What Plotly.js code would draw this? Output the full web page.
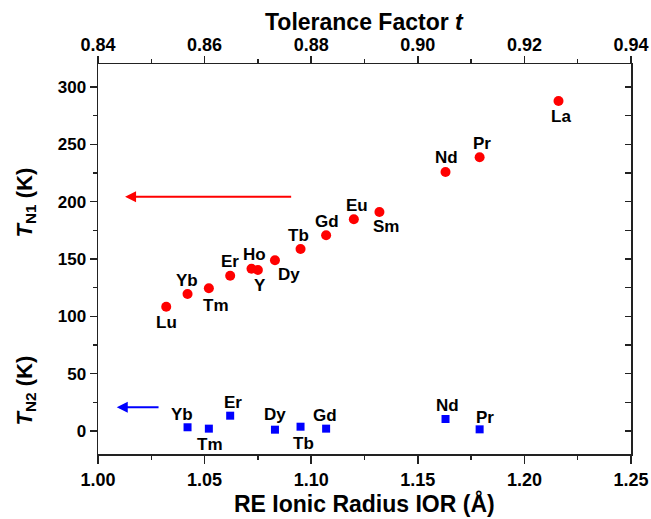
<!DOCTYPE html>
<html>
<head>
<meta charset="utf-8">
<script src="https://cdn.plot.ly/plotly-3.0.1.min.js"></script>
<style>html,body{margin:0;padding:0;background:#fff;}#chart{width:651px;height:519px;}</style>
</head>
<body>
<div id="chart"></div>
<script>
// ---- data ----
const tn1Elements = ["Lu","Yb","Tm","Er","Ho","Y","Dy","Tb","Gd","Eu","Sm","Nd","Pr","La"];
const tn1Radius   = [1.032,1.042,1.052,1.062,1.072,1.075,1.083,1.095,1.107,1.120,1.132,1.163,1.179,1.216];
const tn1Values   = [108.4,119.5,124.5,135.4,141.5,140.4,148.9,158.7,170.7,184.6,191.0,225.9,238.7,287.8];

const tn2Elements = ["Yb","Tm","Er","Dy","Tb","Gd","Nd","Pr"];
const tn2Radius   = [1.042,1.052,1.062,1.083,1.095,1.107,1.163,1.179];
const tn2Values   = [3.3,2.1,13.4,1.2,3.8,2.1,10.5,1.5];

const xRange = [1.00, 1.25];
const tRange = [0.84, 0.94];
const yRange = [-20, 320];

// arrows: [headX, headY, tailX, tailY]
const redArrow  = [1.0127, 204.3, 1.0913, 204.3];
const blueArrow = [1.0088, 20.7, 1.0291, 20.7];

// label offsets in pixels [dx, dy(up positive)]
const tn1Offsets = [[0,-16],[-1,13],[7,-17],[0,14],[3,14],[2,-15],[14,-14],[-2,14],[1,14],[3,14],[7,-15],[1,14],[2,14],[2,-16]];
const tn2Offsets = [[-6,13],[1,-16],[3,13],[0,15],[3,-17],[-1,13],[2,14],[5,12]];

// ---- styles ----
const FONT = "Liberation Sans, Arial, Helvetica, sans-serif";
const LINE = "#222222";

const traces = [
  {x: tn1Radius, y: tn1Values, mode: "markers", type: "scatter",
   marker: {symbol: "circle", size: 10, color: "#ff0000"}, name: "TN1", hoverinfo: "x+y"},
  {x: tn2Radius, y: tn2Values, mode: "markers", type: "scatter",
   marker: {symbol: "square", size: 8, color: "#0000ff"}, name: "TN2", hoverinfo: "x+y"},
  {x: [], y: [], xaxis: "x2", yaxis: "y2", type: "scatter", mode: "markers", showlegend: false}
];

const labelFont = {family: FONT, size: 17, weight: "bold", color: "#000"};
const annotations = [];
tn1Elements.forEach((el, i) => annotations.push({
  x: tn1Radius[i], y: tn1Values[i], xref: "x", yref: "y", text: el, showarrow: false,
  xshift: tn1Offsets[i][0], yshift: tn1Offsets[i][1], font: labelFont
}));
tn2Elements.forEach((el, i) => annotations.push({
  x: tn2Radius[i], y: tn2Values[i], xref: "x", yref: "y", text: el, showarrow: false,
  xshift: tn2Offsets[i][0], yshift: tn2Offsets[i][1], font: labelFont
}));
[[redArrow, "#ff0000"], [blueArrow, "#0000ff"]].forEach(([a, c]) => annotations.push({
  x: a[0], y: a[1], ax: a[2], ay: a[3], xref: "x", yref: "y", axref: "x", ayref: "y",
  text: "", showarrow: true, arrowhead: 2, arrowsize: 1.1, arrowwidth: 2, arrowcolor: c, standoff: 0
}));
const titleFont = {family: FONT, size: 23, weight: "bold", color: "#000"};
annotations.push({
  xref: "paper", yref: "paper", x: -0.135, y: 0.645, text: "<i>T</i><sub>N1</sub> (K)",
  textangle: -90, showarrow: false, xanchor: "center", yanchor: "middle",
  font: {family: FONT, size: 22, weight: "bold", color: "#000"}
});
annotations.push({
  xref: "paper", yref: "paper", x: -0.135, y: 0.163, text: "<i>T</i><sub>N2</sub> (K)",
  textangle: -90, showarrow: false, xanchor: "center", yanchor: "middle",
  font: {family: FONT, size: 22, weight: "bold", color: "#000"}
});
annotations.push({
  xref: "paper", yref: "paper", x: 0.5, y: 1 + (64 - 22) / 390, text: "Tolerance Factor <i>t</i>",
  showarrow: false, xanchor: "center", yanchor: "middle", font: titleFont
});
annotations.push({
  xref: "paper", yref: "paper", x: 0.5, y: -(503 - 454) / 390, text: "RE Ionic Radius IOR (Å)",
  showarrow: false, xanchor: "center", yanchor: "middle", font: titleFont
});

const yTickFont = {family: FONT, size: 17, weight: "bold", color: "#000"};
const xTickFont = {family: FONT, size: 18, weight: "bold", color: "#000"};

const layout = {
  width: 651, height: 519,
  margin: {l: 98, r: 20, t: 64, b: 65, pad: 0},
  paper_bgcolor: "#fff", plot_bgcolor: "#fff",
  showlegend: false,
  font: {family: FONT},
  xaxis: {
    range: xRange, dtick: 0.05, tick0: 1.0, tickformat: ".2f",
    ticks: "outside", ticklen: 8, tickwidth: 1.5, tickcolor: LINE,
    minor: {dtick: 0.025, tick0: 1.0, ticks: "outside", ticklen: 4, tickwidth: 1.5, tickcolor: LINE},
    showline: true, linecolor: LINE, linewidth: 1.5, showgrid: false, zeroline: false,
    tickfont: xTickFont, ticklabelstandoff: 1
  },
  xaxis2: {
    overlaying: "x", side: "top", anchor: "y2",
    range: tRange, dtick: 0.02, tick0: 0.84, tickformat: ".2f",
    ticks: "outside", ticklen: 7, tickwidth: 1.5, tickcolor: LINE,
    minor: {dtick: 0.01, tick0: 0.84, ticks: "outside", ticklen: 4, tickwidth: 1.5, tickcolor: LINE},
    showline: true, linecolor: LINE, linewidth: 1.5, showgrid: false, zeroline: false,
    tickfont: xTickFont, ticklabelstandoff: -3
  },
  yaxis: {
    range: yRange, dtick: 50, tick0: 0,
    ticks: "outside", ticklen: 7, tickwidth: 1.5, tickcolor: LINE,
    minor: {dtick: 25, tick0: 0, ticks: "outside", ticklen: 4, tickwidth: 1.5, tickcolor: LINE},
    showline: true, linecolor: LINE, linewidth: 1.5, showgrid: false, zeroline: false,
    tickfont: yTickFont
  },
  yaxis2: {
    overlaying: "y", side: "right", anchor: "x2",
    range: yRange, dtick: 25, tick0: 0, showticklabels: false,
    ticks: "inside", ticklen: 6, tickwidth: 1.5, tickcolor: LINE,
    showline: true, linecolor: LINE, linewidth: 1.5, showgrid: false, zeroline: false
  },
  annotations: annotations
};

Plotly.newPlot("chart", traces, layout, {displayModeBar: false, staticPlot: true});
</script>
</body>
</html>
